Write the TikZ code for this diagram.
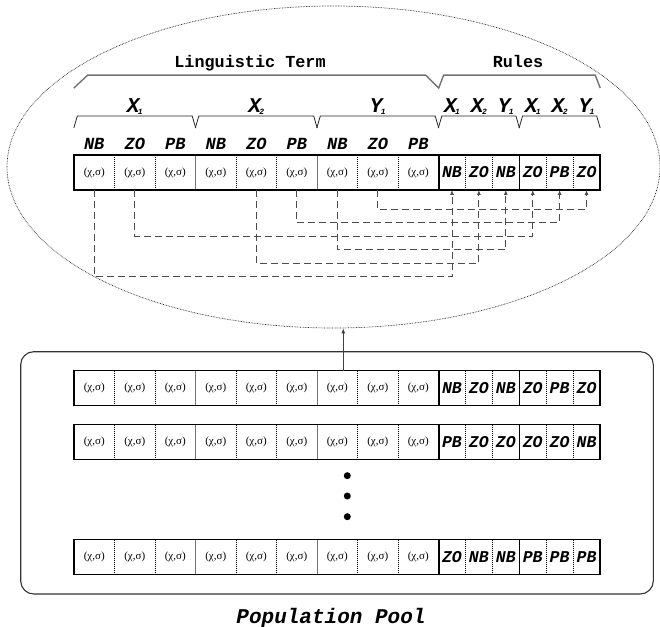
\documentclass[tikz,border=0pt]{standalone}
\usepackage{fontspec}
\setmainfont{Liberation Serif}
\setmonofont{Liberation Mono}
\usepackage{tikz}
\usetikzlibrary{shapes.geometric,arrows.meta,positioning,calc}
\newcommand{\subidx}[1]{\kern-1.5pt\raisebox{-2pt}{\fontsize{8}{8}\selectfont #1}}

\begin{document}
\begin{tikzpicture}[x=1pt, y=-1pt,
    genecell/.style={rectangle, minimum width=40.5pt, minimum height=34.5pt,
        inner sep=0pt, font=\fontsize{11}{12}\selectfont},
    rulecell/.style={rectangle, minimum width=26.92pt, minimum height=34.5pt,
        inner sep=0pt, font=\fontsize{16.5}{18}\selectfont\ttfamily\bfseries\itshape},
    termlab/.style={anchor=base, inner sep=0pt,
        font=\fontsize{17}{18}\selectfont\ttfamily\bfseries\itshape},
    varlab/.style={anchor=base, inner sep=0pt,
        font=\fontsize{21}{20}\selectfont\ttfamily\bfseries\itshape},
    headlab/.style={anchor=base, inner sep=0pt,
        font=\fontsize{16.8}{18}\selectfont\ttfamily\bfseries},
    view/.style={ellipse, draw=black!85, line width=0.7pt, dash pattern=on 0.7pt off 0.9pt,
        minimum width=653pt, minimum height=322pt, inner sep=0pt},
    pool/.style={rectangle, draw=black!80, line width=1.1pt, rounded corners=13pt,
        minimum width=632.6pt, minimum height=242.3pt},
    sep/.style={densely dotted, line width=1pt},
    grp/.style={black!55, line width=0.8pt},
    brace/.style={black!85, line width=0.8pt},
    bigbrace/.style={black!55, line width=1.4pt},
    link/.style={black!70, line width=0.9pt, dash pattern=on 7pt off 4pt},
    arr/.style={-{Latex[length=5pt, width=4pt]}}
]
    \useasboundingbox (0,0) rectangle (660,626);

    % Selected individual
    \node[view] (view) at (333.5,167) {};

    % Population pool
    \node[pool] (pool) at (337,472.85) {};

    % Chromosomes: membership functions + rule base
    \foreach \rw/\yc/\rl in {top/172.5/{NB,ZO,NB,ZO,PB,ZO},
                              p1/388/{NB,ZO,NB,ZO,PB,ZO},
                              p2/442/{PB,ZO,ZO,ZO,ZO,NB},
                              pn/557/{ZO,NB,NB,PB,PB,PB}} {
        \foreach \i in {1,...,9}
            \node[genecell] (\rw-\i) at ({74+40.5*(\i-0.5)}, \yc) {(χ,σ)};
        \foreach \lab [count=\j] in \rl
            \node[rulecell] (\rw-r\j) at ({438.5+26.92*(\j-0.5)}, \yc) {\lab};
        \foreach \i in {1,2,4,5,7,8}
            \draw[sep] (\rw-\i.north east) -- (\rw-\i.south east);
        \foreach \j in {1,2,4,5}
            \draw[sep] (\rw-r\j.north east) -- (\rw-r\j.south east);
        \foreach \i in {3,6}
            \draw[grp] (\rw-\i.north east) -- (\rw-\i.south east);
        \draw[line width=0.8pt] (\rw-r3.north east) -- (\rw-r3.south east);
        \draw[line width=1.6pt] (\rw-9.north east) -- (\rw-9.south east);
        \draw[line width=1.6pt] (\rw-1.north west) rectangle (\rw-r6.south east);
    }

    % Term labels
    \foreach \lab [count=\i] in {NB,ZO,PB,NB,ZO,PB,NB,ZO,PB}
        \node[termlab] (term\i) at ($(top-\i.north)+(0,-6)$) {\lab};

    % Variable labels
    \foreach \c/\v/\s [count=\k] in {top-2/X/1, top-5/X/2, top-8/Y/1}
        \node[varlab] (var\k) at ($(\c.north)+(0,-43)$) {\v\subidx{\s}};
    \foreach \v/\s [count=\j] in {X/1,X/2,Y/1,X/1,X/2,Y/1}
        \node[varlab] (rvar\j) at ($(top-r\j.north)+(0,-43)$) {\v\subidx{\s}};

    % Braces
    \foreach \a/\b in {top-1/top-3, top-4/top-6, top-7/top-9, top-r1/top-r3, top-r4/top-r6}
        \draw[brace] ($(\a.north west)+(0,-27)$) -- ++(3.5,-12)
            -- ($(\b.north east)+(-3.5,-39)$) -- ++(3.5,12);
    \draw[bigbrace] ($(top-1.north west)+(0,-67)$) -- ++(14,-13)
        -- ($(top-9.north east)+(-13,-80)$) -- ++(13,13) -- ++(5,-13)
        -- ($(top-r6.north east)+(-5,-80)$) -- ++(5,13);
    \node[headlab] (lingterm) at (250,67) {Linguistic Term};
    \node[headlab] (rules) at (518,67) {Rules};

    % Rule antecedents/consequents point to terms
    \foreach \g/\j/\d in {1/1/86.5, 5/2/73, 7/3/59.5, 2/4/46, 6/5/32.5, 8/6/19.5}
        \draw[link, arr] (top-\g.south) -- ++(0,\d) -| (top-r\j.south);

    % Selection from the pool
    \draw[arr, black!75, line width=0.9pt] ($(p1-7.north)+(6,0)$) coordinate (up)
        -- (up |- view.south);

    % More individuals
    \foreach \yy [count=\k] in {475.7,496,516.7}
        \node[circle, fill, inner sep=0pt, minimum size=7pt] (dot\k) at (347.3,\yy) {};

    \node[anchor=base, inner sep=0pt,
        font=\fontsize{21}{22}\selectfont\ttfamily\bfseries\itshape] (poollab) at (331,623) {Population Pool};
\end{tikzpicture}
\end{document}
